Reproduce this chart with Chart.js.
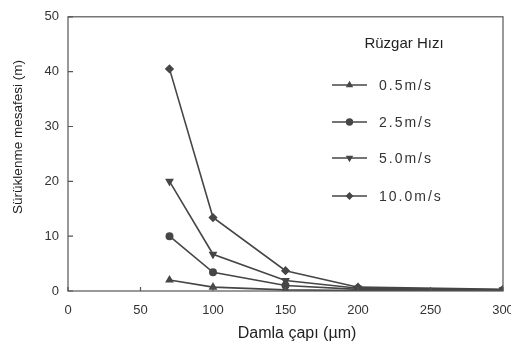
<!DOCTYPE html>
<html>
<head>
<meta charset="utf-8">
<script src="https://cdn.jsdelivr.net/npm/chart.js@4.4.1/dist/chart.umd.min.js"></script>
<style>
  html, body { margin: 0; padding: 0; background: #fff; }
  #wrap { width: 511px; height: 350px; }
</style>
</head>
<body>
<div id="wrap"><canvas id="dragChart"></canvas></div>
<script>
// droplet diameter (um) and drift distance (m) per wind speed
const diameters = [70, 100, 150, 200, 300];
const wind05 = [2.0, 0.7, 0.2, 0.1, 0.05];
const wind25 = [10.0, 3.4, 1.0, 0.3, 0.15];
const wind50 = [20.0, 6.7, 1.9, 0.5, 0.2];
const wind100 = [40.5, 13.4, 3.7, 0.7, 0.3];
const seriesLabels = ['0.5m/s', '2.5m/s', '5.0m/s', '10.0m/s'];
const legendTitle = 'Rüzgar Hızı';
const xTitle = 'Damla çapı (µm)';
const yTitle = 'Sürüklenme mesafesi (m)';
const xTicks = [0, 50, 100, 150, 200, 250, 300];
const yTicks = [0, 10, 20, 30, 40, 50];

const ink = '#464646';
const font = 'Liberation Sans, Arial, Helvetica, sans-serif';

function toPoints(values) {
    return diameters.map((d, i) => ({ x: d, y: values[i] }));
}

const markers = [
    { style: 'triangle', rotation: 0 },
    { style: 'circle', rotation: 0 },
    { style: 'triangle', rotation: 180 },
    { style: 'rectRot', rotation: 0 }
];

const datasets = [wind05, wind25, wind50, wind100].map((vals, i) => ({
    label: seriesLabels[i],
    data: toPoints(vals),
    borderColor: ink,
    backgroundColor: ink,
    borderWidth: 1.6,
    pointStyle: markers[i].style,
    rotation: markers[i].rotation,
    pointRadius: i === 1 ? 3.2 : 3.5,
    tension: 0
}));

// frame, inward ticks, axis titles and the legend box
const framePlugin = {
    id: 'frame',
    afterDraw(chart) {
        const ctx = chart.ctx;
        const a = chart.chartArea;
        const xs = chart.scales.x, ys = chart.scales.y;
        ctx.save();
        ctx.strokeStyle = '#555';
        ctx.lineWidth = 1.2;
        ctx.strokeRect(a.left, a.top, a.right - a.left, a.bottom - a.top);
        ctx.beginPath();
        xTicks.forEach(t => {
            const px = xs.getPixelForValue(t);
            ctx.moveTo(px, a.bottom);
            ctx.lineTo(px, a.bottom - 4);
        });
        yTicks.forEach(t => {
            const py = ys.getPixelForValue(t);
            ctx.moveTo(a.left, py);
            ctx.lineTo(a.left + 5, py);
        });
        ctx.stroke();

        // axis titles
        ctx.fillStyle = '#222';
        ctx.textAlign = 'center';
        ctx.textBaseline = 'middle';
        ctx.font = '16px ' + font;
        ctx.fillText(xTitle, 297, 334);
        ctx.save();
        ctx.translate(18, 137);
        ctx.rotate(-Math.PI / 2);
        ctx.font = '13.5px ' + font;
        ctx.fillText(yTitle, 0, 0);
        ctx.restore();

        // legend
        ctx.font = '15px ' + font;
        ctx.fillText(legendTitle, 404, 44);
        ctx.textAlign = 'left';
        ctx.font = '14px ' + font;
        if ('letterSpacing' in ctx) ctx.letterSpacing = '2px';
        const rows = [85, 122, 158, 196];
        chart.data.datasets.forEach((ds, i) => {
            const y = rows[i];
            ctx.strokeStyle = ink;
            ctx.lineWidth = 1.3;
            ctx.beginPath();
            ctx.moveTo(332, y);
            ctx.lineTo(367, y);
            ctx.stroke();
            ctx.fillStyle = ink;
            Chart.helpers.drawPoint(ctx, {
                pointStyle: ds.pointStyle,
                rotation: ds.rotation,
                radius: 3,
                borderWidth: 1
            }, 349.5, y);
            ctx.fillStyle = '#333';
            ctx.fillText(ds.label, 379, y + 1);
        });
        ctx.restore();
    }
};

new Chart(document.getElementById('dragChart').getContext('2d'), {
    type: 'line',
    data: { datasets: datasets },
    options: {
        responsive: true,
        maintainAspectRatio: false,
        animation: false,
        layout: { padding: { left: 0, right: 8, top: 9, bottom: 0 } },
        plugins: {
            legend: { display: false },
            tooltip: { enabled: false }
        },
        scales: {
            x: {
                type: 'linear',
                min: 0,
                max: 300,
                afterBuildTicks(scale) {
                    scale.ticks = xTicks.map(v => ({ value: v }));
                },
                afterFit(scale) {
                    scale.height = 59;
                    scale.paddingLeft = 0;
                    scale.paddingRight = 0;
                },
                grid: { display: false, drawTicks: false },
                border: { display: false },
                ticks: {
                    color: '#333',
                    padding: 12,
                    maxRotation: 0,
                    font: { family: font, size: 13 }
                }
            },
            y: {
                min: 0,
                max: 50,
                afterBuildTicks(scale) {
                    scale.ticks = yTicks.map(v => ({ value: v }));
                },
                afterFit(scale) {
                    scale.width = 68;
                },
                grid: { display: false, drawTicks: false },
                border: { display: false },
                ticks: {
                    color: '#333',
                    padding: 9,
                    font: { family: font, size: 13 }
                }
            }
        }
    },
    plugins: [framePlugin]
});
</script>
</body>
</html>
